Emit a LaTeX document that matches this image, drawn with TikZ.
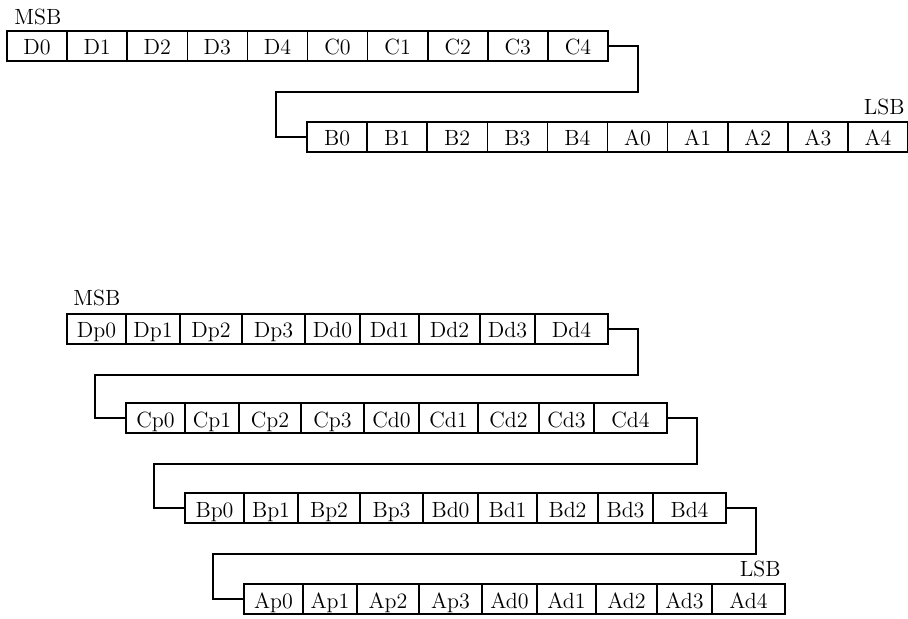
\documentclass[tikz,border=0pt]{standalone}
\usepackage{tikz}
\usetikzlibrary{positioning, calc}

\begin{document}
\begin{tikzpicture}[x=0.5pt, y=-0.5pt,
  cell/.style  = {draw, line width=0.8pt, minimum width=30.05pt, minimum height=15pt,
                  inner sep=0pt, outer sep=0pt, text height=9pt, text depth=0pt,
                  font=\fontsize{11}{13}\selectfont},
  frame/.style = {draw, line width=1.2pt},
  wire/.style  = {line width=0.6pt},
  tag/.style   = {inner sep=0pt, font=\fontsize{11}{13}\selectfont},
]
\useasboundingbox (0,0) rectangle (908,619);

% -- upper word: D C / B A --------------------------------------------------
\node[cell, anchor=west] (D0) at (7,46) {D0};
\foreach \t [remember=\t as \p (initially D0)] in {D1,D2,D3,D4,C0,C1,C2,C3,C4}
  \node[cell, right=0pt of \p] (\t) {\t};

\node[cell, anchor=west] (B0) at (307,137) {B0};
\foreach \t [remember=\t as \p (initially B0)] in {B1,B2,B3,B4,A0,A1,A2,A3,A4}
  \node[cell, right=0pt of \p] (\t) {\t};

\draw[frame] (D0.north west) rectangle (C4.south east);
\draw[frame] (B0.north west) rectangle (A4.south east);

\node[tag, anchor=south west] (msb1) at ($(D0.north west)+(7,-6)$) {MSB};
\node[tag, anchor=south east] (lsb1) at ($(A4.north east)+(-3,-7)$) {LSB};

\draw[wire] (C4.east) -- ++(30,0) -- ++(0,46) -| ($(B0.west)+(-31,0)$) -- (B0.west);

% -- lower word: p/d fields per letter --------------------------------------
\foreach \L/\x/\y in {D/67/329, C/126/418, B/185/508, A/244/599} {
  \node[cell, minimum width=29.5pt, anchor=west] (\L p0) at (\x,\y) {\L p0};
  \foreach \t/\w [remember=\t as \p (initially p0)] in
      {p1/54, p2/62, p3/63, d0/55, d1/59, d2/61, d3/55, d4/73}
    \node[cell, minimum width=\w*0.5pt, right=0pt of \L\p] (\L\t) {\L\t};
  \draw[frame] (\L p0.north west) rectangle (\L d4.south east);
}

\node[tag, anchor=south west] (msb2) at ($(Dp0.north west)+(6,-8)$) {MSB};
\node[tag, anchor=south east] (lsb2) at ($(Ad4.north east)+(-4,-7)$) {LSB};

\foreach \a/\b in {Dd4/Cp0, Cd4/Bp0, Bd4/Ap0}
  \draw[wire] (\a.east) -- ++(30,0) -- ++(0,46) -| ($(\b.west)+(-31,0)$) -- (\b.west);
\end{tikzpicture}
\end{document}
